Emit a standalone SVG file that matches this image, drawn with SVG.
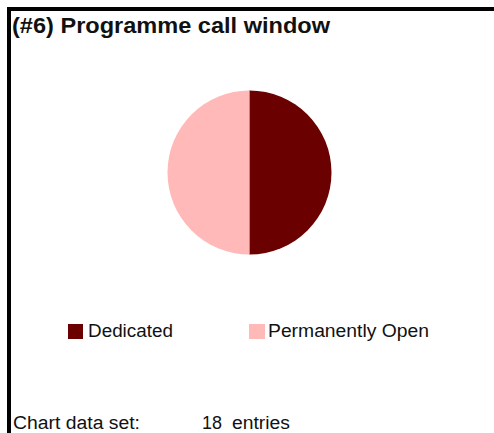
<svg xmlns="http://www.w3.org/2000/svg" width="494" height="433" viewBox="0 0 494 433">
<style>
text{font-family:"Liberation Sans",Arial,sans-serif;fill:#111}
.title{font-size:22px;font-weight:bold}
.lg{font-size:17.5px}
.ft{font-size:18px}
</style>
<rect x="0" y="0" width="494" height="433" fill="#fff"/>
<g id="frame">
<rect x="7" y="7" width="487" height="4" fill="#000"/>
<rect x="7" y="7" width="4" height="426" fill="#000"/>
</g>
<g id="title"><text class="title" x="12" y="33" textLength="318" lengthAdjust="spacingAndGlyphs">(#6) Programme call window</text></g>
<g id="pie">
<path d="M249.5,172.5 L249.5,90.5 A82,82 0 0 1 249.5,254.5 Z" fill="#6B0000"/>
<path d="M249.5,172.5 L249.5,254.5 A82,82 0 0 1 249.5,90.5 Z" fill="#FFB9B9"/>
<line x1="249.5" y1="90.5" x2="249.5" y2="254.5" stroke="#b08080" stroke-width="0.8"/>
</g>
<g id="legend-dedicated">
<rect x="68" y="324" width="15" height="15" fill="#6B0000"/>
<text class="lg" x="88" y="337" textLength="85" lengthAdjust="spacingAndGlyphs">Dedicated</text>
</g>
<g id="legend-open">
<rect x="249" y="324" width="16" height="15" fill="#FFB9B9"/>
<text class="lg" x="268" y="337" textLength="161" lengthAdjust="spacingAndGlyphs">Permanently Open</text>
</g>
<g id="footer">
<text class="ft" x="13" y="428.5" textLength="127" lengthAdjust="spacingAndGlyphs">Chart data set:</text>
<text class="ft" x="202" y="428.5" textLength="20" lengthAdjust="spacingAndGlyphs">18</text>
<text class="ft" x="232" y="428.5" textLength="58" lengthAdjust="spacingAndGlyphs">entries</text>
</g>
</svg>
